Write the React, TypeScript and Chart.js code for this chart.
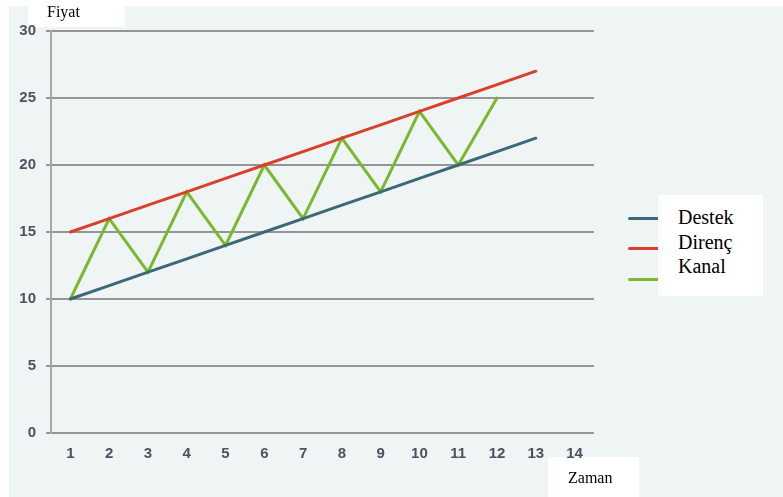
import React, { useEffect, useRef } from "react";
import { Chart, registerables } from "chart.js";

Chart.register(...registerables);

const categories = ["1", "2", "3", "4", "5", "6", "7", "8", "9", "10", "11", "12", "13", "14"];
const destek = [10, 11, 12, 13, 14, 15, 16, 17, 18, 19, 20, 21, 22, null];
const direnc = [15, 16, 17, 18, 19, 20, 21, 22, 23, 24, 25, 26, 27, null];
const kanal = [10, 16, 12, 18, 14, 20, 16, 22, 18, 24, 20, 25, null, null];
const seriesNames = ["Destek", "Direnç", "Kanal"];
const seriesColors = ["#3d6878", "#d9412b", "#7ab82e"];
const yTicks = [0, 5, 10, 15, 20, 25, 30];
const yTitle = "Fiyat";
const xTitle = "Zaman";

export default function App() {
  const ref = useRef<HTMLCanvasElement | null>(null);

  useEffect(() => {
    if (!ref.current) return;
    const series = [destek, direnc, kanal];
    const tickFont = { family: "Liberation Sans", size: 15, weight: "bold" as const };
    const chart = new Chart(ref.current, {
      type: "line",
      data: {
        labels: categories,
        datasets: series.map((d, i) => ({
          label: seriesNames[i],
          data: d,
          borderColor: seriesColors[i],
          backgroundColor: seriesColors[i],
          borderWidth: 3,
          pointRadius: 0,
          tension: 0,
          spanGaps: false,
          borderCapStyle: "round" as const,
        })),
      },
      options: {
        animation: false,
        responsive: false,
        maintainAspectRatio: false,
        layout: { padding: { left: 0, top: 31, right: 189, bottom: 0 } },
        plugins: { legend: { display: false }, tooltip: { enabled: false } },
        scales: {
          x: {
            type: "category",
            offset: true,
            grid: { display: false, drawTicks: false },
            border: { display: false },
            ticks: {
              padding: 12,
              color: "#505060",
              font: tickFont,
              maxRotation: 0,
              autoSkip: false,
            },
            afterFit: (s: any) => {
              s.height = 64;
            },
          },
          y: {
            min: 0,
            max: 30,
            afterBuildTicks: (s: any) => {
              s.ticks = yTicks.map((v) => ({ value: v }));
            },
            grid: { color: "#959595", lineWidth: 2, drawTicks: true, tickLength: 5 },
            border: { display: true, color: "#a8a8a8", width: 2 },
            ticks: {
              padding: 10,
              color: "#505060",
              font: tickFont,
            },
            afterFit: (s: any) => {
              s.width = 51;
            },
          },
        },
      },
    });
    return () => chart.destroy();
  }, []);

  const serif = "'Liberation Serif', 'Times New Roman', serif";
  const legendY = [218, 248, 279];

  return (
    <div style={{ position: "absolute", left: 0, top: 0, width: 783, height: 497, background: "#ffffff", overflow: "hidden" }}>
      <div style={{ position: "absolute", left: 9, top: 6, width: 774, height: 491, background: "#eff4f5" }} />
      <div style={{ position: "absolute", left: 28, top: 6, width: 97, height: 21, background: "#ffffff" }} />
      <div style={{ position: "absolute", left: 548, top: 457, width: 91, height: 40, background: "#ffffff" }} />
      <canvas ref={ref} width={783} height={497} style={{ position: "absolute", left: 0, top: 0, width: 783, height: 497 }} />
      <div style={{ position: "absolute", left: 47, top: 3.6, fontFamily: serif, fontSize: 16, lineHeight: "16px", color: "#000" }}>{yTitle}</div>
      <div style={{ position: "absolute", left: 568, top: 469.6, fontFamily: serif, fontSize: 16, lineHeight: "16px", color: "#000" }}>{xTitle}</div>
      {seriesColors.map((c, i) => (
        <div key={i} style={{ position: "absolute", left: 628, top: legendY[i] - 1.5, width: 34, height: 3, borderRadius: 1.5, background: c }} />
      ))}
      <div style={{ position: "absolute", left: 658, top: 195, width: 105, height: 101, background: "#ffffff" }} />
      <div style={{ position: "absolute", left: 678, top: 205, fontFamily: serif, fontSize: 20, lineHeight: "24.5px", color: "#000" }}>
        {seriesNames.map((n) => (
          <div key={n}>{n}</div>
        ))}
      </div>
    </div>
  );
}
